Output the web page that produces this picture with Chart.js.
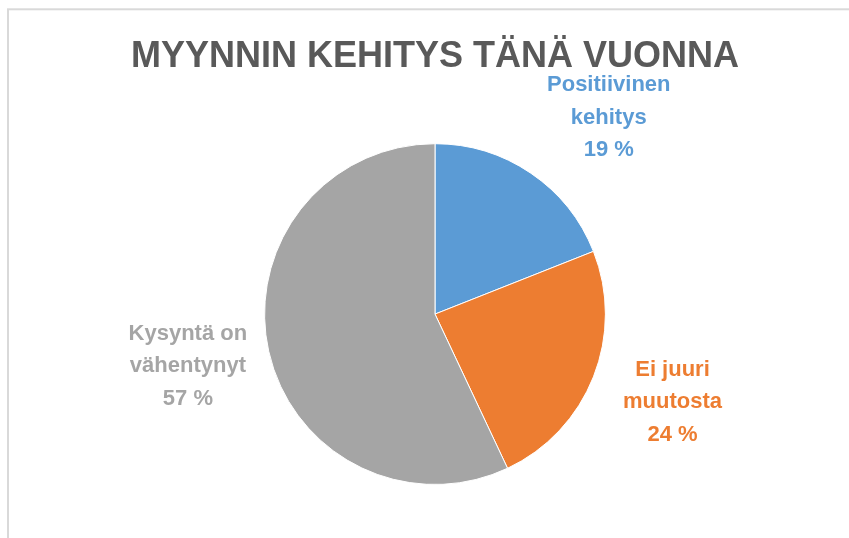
<!DOCTYPE html>
<html>
<head>
<meta charset="utf-8">
<script src="https://cdn.jsdelivr.net/npm/chart.js@4/dist/chart.umd.min.js"></script>
<style>
  html, body { margin: 0; padding: 0; background: #fff; }
  canvas { display: block; }
</style>
</head>
<body>
<canvas id="myChart" width="849" height="538"></canvas>
<script>
// MYYNNIN KEHITYS - pie chart
const categories = ["Positiivinen kehitys", "Ei juuri muutosta", "Kysyntä on vähentynyt"];
const labelLines = [["Positiivinen", "kehitys"], ["Ei juuri", "muutosta"], ["Kysyntä on", "vähentynyt"]];
const shares = [19, 24, 57];
const sliceColors = ["#5B9BD5", "#ED7D31", "#A5A5A5"];

const FONT = "'Liberation Sans', Arial, sans-serif";

// small per-label nudges (px) on top of the radial placement
const labelNudge = [[32, 12], [3, -5], [-1, -3]];

const framePlugin = {
    id: "frame",
    beforeDraw(chart) {
        const ctx = chart.ctx;
        ctx.save();
        ctx.strokeStyle = "#d9d9d9";
        ctx.lineWidth = 2;
        ctx.strokeRect(8, 9.3, 900, 600);
        ctx.restore();
    }
};

const outsideLabels = {
    id: "outsideLabels",
    afterDatasetsDraw(chart) {
        const ctx = chart.ctx;
        const meta = chart.getDatasetMeta(0);
        ctx.save();
        ctx.font = "bold 22px " + FONT;
        ctx.textAlign = "center";
        ctx.textBaseline = "middle";
        meta.data.forEach((arc, i) => {
            const p = arc.getProps(["x", "y", "startAngle", "endAngle", "outerRadius"], true);
            const mid = (p.startAngle + p.endAngle) / 2;
            const cx = p.x + Math.cos(mid) * p.outerRadius * 1.48 + labelNudge[i][0];
            const cy = p.y + Math.sin(mid) * p.outerRadius * 1.48 + labelNudge[i][1];
            const lines = labelLines[i].concat([shares[i] + " %"]);
            const lh = 32.5;
            ctx.fillStyle = sliceColors[i];
            lines.forEach((t, k) => {
                ctx.fillText(t, cx, cy + (k - (lines.length - 1) / 2) * lh);
            });
        });
        ctx.restore();
    }
};

const ctx = document.getElementById("myChart").getContext("2d");
new Chart(ctx, {
    type: "pie",
    data: {
        labels: categories,
        datasets: [{
            data: shares,
            backgroundColor: sliceColors,
            borderColor: "#ffffff",
            borderWidth: 1
        }]
    },
    options: {
        responsive: false,
        devicePixelRatio: 1,
        animation: false,
        layout: { padding: { left: 21, right: 0, top: 0, bottom: 53 } },
        plugins: {
            legend: { display: false },
            tooltip: { enabled: false },
            title: {
                display: true,
                text: "MYYNNIN KEHITYS TÄNÄ VUONNA",
                color: "#595959",
                font: { family: FONT, size: 36, weight: "bold" },
                padding: { top: 35, bottom: 65 }
            }
        }
    },
    plugins: [framePlugin, outsideLabels]
});
</script>
</body>
</html>
